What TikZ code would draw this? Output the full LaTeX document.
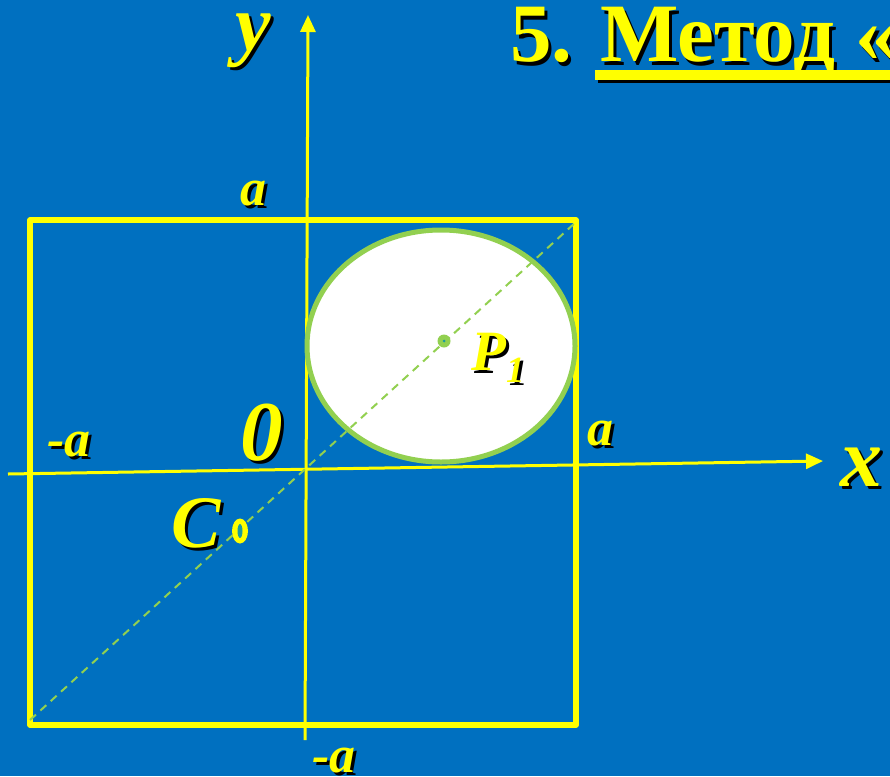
\documentclass[tikz,border=0pt]{standalone}
\usepackage{fontspec}
\setmainfont{Liberation Serif}
\usepackage{xcolor}
\usepackage{tikz}
\usetikzlibrary{shapes.geometric, arrows.meta}
\definecolor{bgcol}{HTML}{0070C0}
\definecolor{linecol}{HTML}{FFFF00}
\definecolor{diskcol}{HTML}{92D050}
\definecolor{dotcol}{HTML}{1A9AA0}
\newcommand{\fsz}[1]{\fontsize{#1}{#1}\selectfont}
\newcommand{\shtext}[1]{\leavevmode\rlap{\kern3pt\raisebox{-3pt}{\color{black}#1}}#1}

\begin{document}
\begin{tikzpicture}[
    x=1pt, y=-1pt,
    every node/.style={inner sep=0pt, text=linecol},
    lbl/.style={anchor=base, font=\bfseries\itshape\fsz{#1}},
    axis/.style={draw=linecol, line width=3pt, -{Triangle[length=17pt, width=15pt]}},
    frame/.style={draw=linecol, line width=5.5pt, line join=round},
    diag/.style={draw=diskcol, line width=2pt, dash pattern=on 8pt off 6pt},
    disk/.style={ellipse, draw=diskcol, line width=5pt, fill=white,
                 minimum width=268pt, minimum height=232pt},
]

\fill[bgcol] (0,0) rectangle (890,776);
\useasboundingbox (0,0) rectangle (890,776);

% Square
\coordinate (sqtl) at (30,220);
\coordinate (sqbr) at (576,725);
\draw[frame] (sqtl) rectangle (sqbr);

% Axes
\coordinate (xs) at (8,474);
\coordinate (xe) at (823,461);
\coordinate (ys) at (305,740);
\coordinate (ye) at (308,15);
\draw[axis] (xs) -- (xe);
\draw[axis] (ys) -- (ye);

% Disk and diagonal
\node[disk] (disk) at (441,346) {};
\coordinate (dgs) at (30,720);
\coordinate (dge) at (576,222);
\draw[diag] (dgs) -- (dge);

% Points
\node[circle, fill=diskcol, minimum size=13pt] (p1) at (444,341) {};
\fill[dotcol] (p1) circle (1.5pt);
\node[ellipse, fill=linecol, minimum width=16pt, minimum height=25pt] (cpt) at (240,531) {};
\fill[dotcol] (cpt) ellipse (2.5pt and 7pt);

% Title
\node[anchor=base west, font=\bfseries\fsz{83}] (title) at (510,62) {\shtext{5. Метод «}};
\fill[black] (598,73) rectangle (893,83);
\fill[linecol] (595,70) rectangle (890,80);

% Labels
\node[lbl=80] (ylbl) at (253,50) {\shtext{y}};
\node[lbl=84] (xlbl) at (861,486) {\shtext{x}};
\node[lbl=85] (olbl) at (262,460) {\shtext{0}};
\node[lbl=52] (atop) at (253,205) {\shtext{a}};
\node[lbl=52] (aright) at (600,445) {\shtext{a}};
\node[lbl=52] (aleft) at (69,456) {\shtext{-a}};
\node[lbl=52] (abot) at (334,772) {\shtext{-a}};
\node[lbl=74] (clbl) at (196,547) {\shtext{C}};
\node[lbl=57, anchor=base west] (plbl) at (471,370)
    {\shtext{P\raisebox{-12pt}{\fsz{37}1}}};

\end{tikzpicture}
\end{document}
